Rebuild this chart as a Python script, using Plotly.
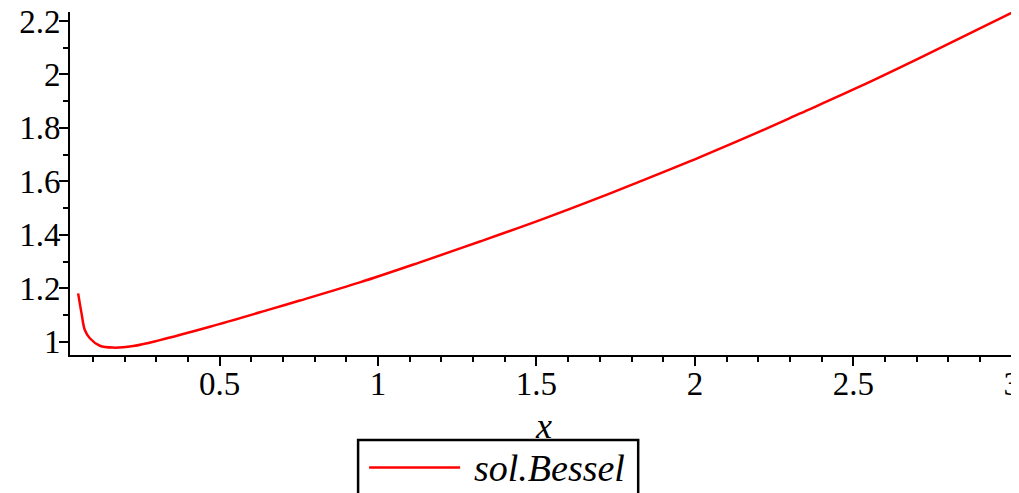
import plotly.graph_objects as go

# Values
x_vals = [0.0537, 0.0644, 0.0748, 0.0906, 0.1222, 0.1641, 0.2273, 0.3116,
          0.4694, 0.6588, 0.7532, 0.9426, 1.132, 1.3217, 1.511, 1.700, 1.827,
          2.016, 2.2055, 2.332, 2.521, 2.710, 3.000]
y_vals = [1.181, 1.106, 1.044, 1.013, 0.985, 0.978, 0.984, 1.006,
          1.056, 1.121, 1.154, 1.222, 1.297, 1.375, 1.455, 1.540, 1.600,
          1.691, 1.787, 1.854, 1.955, 2.062, 2.231]
series_name = "sol.Bessel"
x_title = "x"

# The page body has an 8px default margin, so the figure is drawn at (8, 8)
OFF = 8
W, H = 1019 - OFF, 493 - OFF
L, T, B = 62, 4, 138
R = W - (1011.7 - OFF)
pw, ph = W - L - R, H - T - B

def px2paper_x(px):
    # px given in screenshot coordinates
    return (px - OFF - L) / pw

def py2paper_y(py):
    return (H - B - (py - OFF)) / ph

FONT = "Liberation Serif, Times New Roman, Times, serif"

fig = go.Figure()
fig.add_trace(go.Scatter(
    x=x_vals, y=y_vals, mode="lines", name=series_name,
    line=dict(color="#ff0000", width=2.5, shape="spline", smoothing=1.0),
    showlegend=False,
))

axis_common = dict(
    showline=True, linecolor="black", linewidth=2,
    ticks="outside", ticklen=9, tickwidth=2, tickcolor="black",
    showgrid=False, zeroline=False, automargin=False,
    ticklabeloverflow="allow",
    tickfont=dict(family=FONT, size=33, color="black"),
)

fig.update_xaxes(
    range=[0.028, 3.0005], tick0=0, dtick=0.5, ticklabelstandoff=-11,
    minor=dict(ticks="outside", ticklen=5, tickwidth=2, tickcolor="black",
               dtick=0.1, tick0=0, showgrid=False),
    **axis_common,
)
fig.update_yaxes(
    range=[0.9503, 2.2336], tick0=0, dtick=0.2, ticklabelstandoff=-8,
    minor=dict(ticks="outside", ticklen=5, tickwidth=2, tickcolor="black",
               dtick=0.1, tick0=0, showgrid=False),
    **axis_common,
)

# x-axis title
fig.add_annotation(xref="paper", yref="paper",
                   x=px2paper_x(543), y=py2paper_y(426),
                   xanchor="center", yanchor="middle", showarrow=False,
                   text="<i>" + x_title + "</i>",
                   font=dict(family=FONT, size=36, color="black"))

# Legend box (drawn below the plot, as in the reference)
fig.add_shape(type="rect", xref="paper", yref="paper",
              x0=px2paper_x(358), x1=px2paper_x(638),
              y0=py2paper_y(500), y1=py2paper_y(440),
              line=dict(color="black", width=2.5), fillcolor="white", layer="above")
fig.add_shape(type="line", xref="paper", yref="paper",
              x0=px2paper_x(369), x1=px2paper_x(460),
              y0=py2paper_y(467.5), y1=py2paper_y(467.5),
              line=dict(color="#ff0000", width=2.5), layer="above")
fig.add_annotation(xref="paper", yref="paper",
                   x=px2paper_x(472), y=py2paper_y(468),
                   xanchor="left", yanchor="middle", showarrow=False,
                   text="<i>" + series_name + "</i>",
                   font=dict(family=FONT, size=38, color="black"))

fig.update_layout(
    width=W, height=H,
    margin=dict(l=L, r=R, t=T, b=B, pad=0),
    paper_bgcolor="white", plot_bgcolor="white",
    showlegend=False,
)

fig.write_html("out.html")
